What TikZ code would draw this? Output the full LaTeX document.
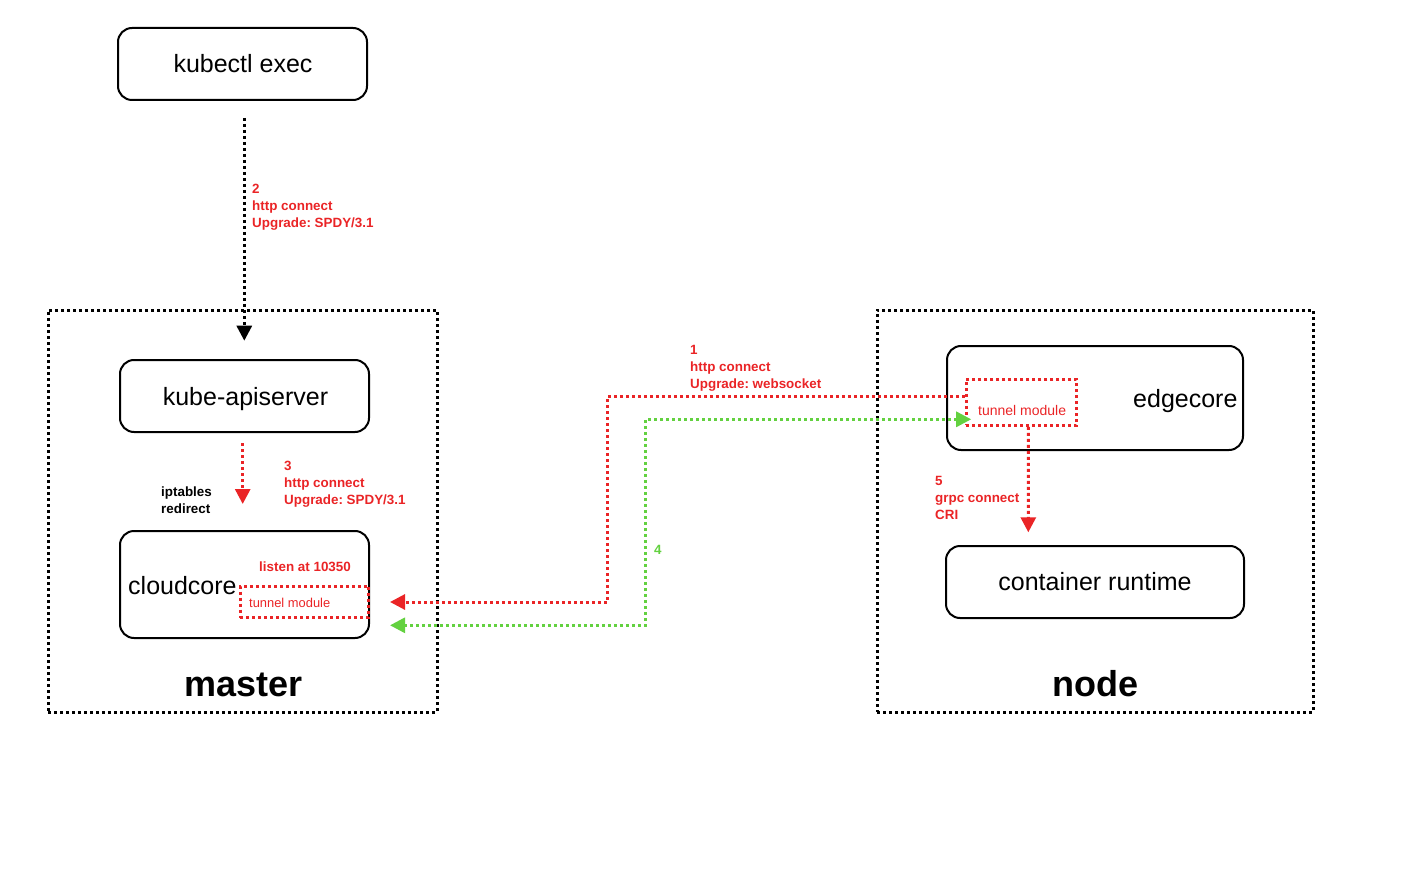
\documentclass[tikz,border=0pt]{standalone}
\usepackage{fontspec}
\setmainfont{Liberation Sans}
\usetikzlibrary{arrows.meta,calc}
\definecolor{linkred}{RGB}{234,36,38}
\definecolor{linkgreen}{RGB}{99,209,64}
\newcommand{\fsz}[2]{\fontsize{#1}{#2}\selectfont}
\frenchspacing

\begin{document}
\begin{tikzpicture}[x=1pt,y=-1pt,
  box/.style={draw, line width=2pt, rounded corners=14pt, inner sep=0pt, font=\fsz{25}{29}},
  zone/.style={draw, line width=3pt, dash pattern=on 3pt off 3pt, inner sep=0pt},
  tunnel/.style={draw=linkred, line width=3pt, dash pattern=on 3pt off 3pt, inner sep=0pt},
  big/.style={font=\fsz{25}{29}, inner sep=0pt},
  title/.style={font=\bfseries\fsz{36}{40}, inner sep=0pt},
  note/.style={font=\bfseries\fsz{13.4}{17}, align=left, inner sep=0pt, text=linkred},
  small/.style={font=\fsz{#1}{16}, inner sep=0pt, text=linkred},
  blacklink/.style={draw=black, line width=3pt, dash pattern=on 3pt off 3pt},
  redlink/.style={draw=linkred, line width=3pt, dash pattern=on 3pt off 3pt},
  greenlink/.style={draw=linkgreen, line width=3pt, dash pattern=on 3pt off 3pt},
  headend/.style={-{Triangle[length=15pt,width=15pt]}},
  headboth/.style={{Triangle[length=15pt,width=15pt]}-{Triangle[length=15pt,width=15pt]}}
]
\path[use as bounding box] (0,0) rectangle (1412,890);

% zones
\node[zone, minimum width=389pt, minimum height=402pt] (master) at (242.5,511) {};
\node[zone, minimum width=436pt, minimum height=402pt] (nodezone) at (1095,511) {};
\node[title, anchor=base] (mastertxt) at (243.5,696) {master};
\node[title, anchor=base] (nodetxt) at (1095,696) {node};

% components
\node[box, minimum width=249pt, minimum height=72pt] (kubectl) at (242.5,64) {};
\node[big, anchor=base] (kubectltxt) at (243,73) {kubectl exec};
\node[box, minimum width=249pt, minimum height=72pt] (api) at (244.5,396) {};
\node[big, anchor=base] (apitxt) at (245.5,405) {kube-apiserver};
\node[box, minimum width=249pt, minimum height=107pt] (cloud) at (244.5,584.5) {};
\node[big, anchor=base west] (cloudtxt) at (128,594.5) {cloudcore};
\node[box, minimum width=296pt, minimum height=104pt] (edge) at (1095,398) {};
\node[big, anchor=base west] (edgetxt) at (1133,407) {edgecore};
\node[box, minimum width=298pt, minimum height=72pt] (runtime) at (1095,582) {};
\node[big, anchor=base] (runtimetxt) at (1095,590) {container runtime};

% tunnel modules
\node[tunnel, minimum width=128.5pt, minimum height=31.5pt] (cctun) at (304.25,601.75) {};
\node[small=12.9, anchor=base west] (cctuntxt) at (249,607.2) {tunnel module};
\node[tunnel, minimum width=110.7pt, minimum height=46pt] (ectun) at (1021.35,402.3) {};
\node[small=14, anchor=base west] (ectuntxt) at (978,415) {tunnel module};
\node[font=\bfseries\fsz{13.4}{17}, inner sep=0pt, text=linkred, anchor=base west] (listen) at (259,571) {listen at 10350};

% step 2: kubectl -> apiserver
\draw[blacklink, headend] ($(kubectl.south)+(1.8,17)$) -- ($(api.north)+(-0.2,-18.3)$);
\node[note, anchor=north west] (lab2) at (252,183.7) {2\\http connect\\Upgrade: SPDY/3.1};

% step 3: apiserver -> cloudcore
\draw[redlink, headend] ($(api.south)+(-1.8,10)$) -- ($(cloud.north)+(-1.8,-26)$);
\node[note, anchor=north west] (lab3) at (284,460.8) {3\\http connect\\Upgrade: SPDY/3.1};
\node[note, text=black, anchor=north west] (iptables) at (161,486.3) {iptables\\redirect};

% step 1: edgecore tunnel -> cloudcore tunnel
\coordinate (r1turn) at (607.5,602);
\coordinate (r1end) at (390,602);
\draw[redlink, headend] ($(ectun.west)+(0,-6.3)$) -| (r1turn) -- (r1end);
\node[note, anchor=north west] (lab1) at (690,345.5) {1\\http connect\\Upgrade: websocket};

% step 4: tunnel between the two modules
\coordinate (g4end) at (390,625.3);
\coordinate (g4turn) at (645.8,419.3);
\draw[greenlink, headboth] (g4end) -| (g4turn) -- ($(ectun.west)+(6.7,17)$);
\node[font=\bfseries\fsz{13.4}{17}, inner sep=0pt, text=linkgreen, anchor=base west] (lab4) at (654,554) {4};

% step 5: edgecore -> container runtime
\draw[redlink, headend] ($(ectun.south)+(7,0)$) -- ($(runtime.north)+(-66.7,-12.7)$);
\node[note, anchor=north west] (lab5) at (935,476.5) {5\\grpc connect\\CRI};
\end{tikzpicture}
\end{document}
